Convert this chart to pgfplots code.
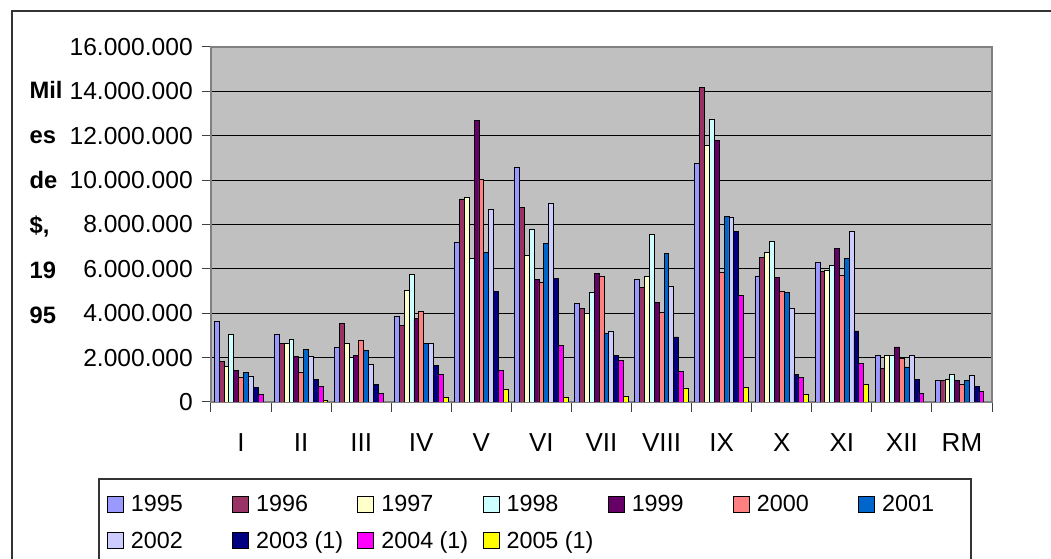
\documentclass[border=0pt]{standalone}
\usepackage{fontspec}
\setmainfont{Liberation Sans}
\usepackage{pgfplots}
\usepackage{pgfplotstable}
\pgfplotsset{compat=1.18}
\definecolor{cA}{HTML}{9999FF}
\definecolor{cB}{HTML}{993366}
\definecolor{cC}{HTML}{FFFFCC}
\definecolor{cD}{HTML}{CCFFFF}
\definecolor{cE}{HTML}{660066}
\definecolor{cF}{HTML}{FF8080}
\definecolor{cG}{HTML}{0066CC}
\definecolor{cH}{HTML}{CCCCFF}
\definecolor{cI}{HTML}{000080}
\definecolor{cJ}{HTML}{FF00FF}
\definecolor{cK}{HTML}{FFFF00}
\definecolor{bgc}{HTML}{C0C0C0}
\definecolor{axc}{HTML}{808080}
% values in millions of $ (1995)
\pgfplotstableread{
x  a     b     c     d     e     f     g     h     i     j     k
0  3.65  1.81  1.59  3.04  1.42  1.09  1.35  1.14  0.64  0.36  nan
1  3.04  2.65  2.65  2.82  2.04  1.35  2.38  2.04  1.03  0.70  0.07
2  2.44  3.56  2.65  2.00  2.10  2.77  2.31  1.69  0.81  0.39  nan
3  3.88  3.47  5.02  5.74  3.76  4.10  2.64  2.64  1.65  1.24  0.19
4  7.19  9.15  9.21  6.46  12.69 10.01 6.74  8.66  5.00  1.41  0.57
5  10.56 8.78  6.59  7.76  5.51  5.39  7.13  8.93  5.56  2.55  0.19
6  4.45  4.21  3.99  4.96  5.79  5.68  3.08  3.20  2.09  1.86  0.24
7  5.51  5.17  5.64  7.54  4.49  4.06  6.70  5.23  2.93  1.39  0.62
8  10.77 14.16 11.57 12.75 11.79 5.84  8.37  8.31  7.70  4.82  0.67
9  5.68  6.50  6.74  7.25  5.62  5.00  4.94  4.21  1.24  1.12  0.36
10 6.28  5.90  5.95  6.17  6.90  5.72  6.46  7.69  3.20  1.75  0.79
11 2.08  1.51  2.08  2.12  2.48  1.97  1.58  2.08  1.03  0.40  nan
12 0.96  0.96  1.03  1.24  0.96  0.79  0.96  1.18  0.69  0.46  nan
}\data
\begin{document}
\begin{tikzpicture}
\useasboundingbox (0,0) rectangle (788.25pt,419.25pt);
\draw[line width=1.5pt, color=black!80] (9pt,-5pt) -- (9pt,411pt) -- (800pt,411pt);
\draw[line width=1.5pt, color=black!80] (74.25pt,-5pt) -- (74.25pt,60pt) -- (728.25pt,60pt) -- (728.25pt,-5pt);
\begin{axis}[
  at={(158.25pt,117.75pt)}, anchor=south west,
  scale only axis, width=585.75pt, height=266.25pt,
  xmin=-0.5, xmax=12.5, ymin=0, ymax=16,
  ybar=0pt, bar width=3.65pt,
  axis background/.style={fill=bgc},
  axis line style={draw=axc, line width=1pt},
  ymajorgrids, grid style={black, line width=0.75pt},
  ytick={0,2,...,16},
  yticklabels={0,2.000.000,4.000.000,6.000.000,8.000.000,10.000.000,12.000.000,14.000.000,16.000.000},
  xtick={0,...,12},
  xticklabels={I,II,III,IV,V,VI,VII,VIII,IX,X,XI,XII,RM},
  minor xtick={-0.5,0.5,...,12.5},
  major x tick style={draw=none},
  xtick pos=bottom, ytick pos=left,
  tick align=outside, major tick length=6.75pt, minor tick length=7.5pt,
  tick style={black!75, line width=0.75pt},
  yticklabel style={font=\fontsize{18.45}{22}\selectfont, inner sep=0pt, xshift=-6.75pt},
  xticklabel style={font=\fontsize{19.5}{22}\selectfont, inner sep=0pt, yshift=-17pt},
  every axis y label/.style={at={(axis description cs:-0.2326,0.904)}, anchor=north west, align=left, inner sep=0pt, font=\bfseries\fontsize{17.8}{33.75}\selectfont},
  ylabel={Mil\\es\\de\\\$,\\19\\95},
  legend columns=7,
  legend cell align=left,
  legend image code/.code={\draw[#1, line width=0.75pt] (0pt,-6pt) rectangle (12pt,6pt);},
  legend style={draw=none, fill=none, inner sep=0pt, outer sep=0pt,
    at={(axis description cs:-0.1332,-0.262)}, anchor=north west,
    nodes={inner sep=0pt, font=\fontsize{17.5}{20}\selectfont},
    row sep=13pt,
    /tikz/every odd column/.append style={column sep=5.25pt}},
]
\addplot[fill=cA, draw=black, line width=0.6pt] table[x=x,y=a]{\data};
\addplot[fill=cB, draw=black, line width=0.6pt] table[x=x,y=b]{\data};
\addplot[fill=cC, draw=black, line width=0.6pt] table[x=x,y=c]{\data};
\addplot[fill=cD, draw=black, line width=0.6pt] table[x=x,y=d]{\data};
\addplot[fill=cE, draw=black, line width=0.6pt] table[x=x,y=e]{\data};
\addplot[fill=cF, draw=black, line width=0.6pt] table[x=x,y=f]{\data};
\addplot[fill=cG, draw=black, line width=0.6pt] table[x=x,y=g]{\data};
\addplot[fill=cH, draw=black, line width=0.6pt] table[x=x,y=h]{\data};
\addplot[fill=cI, draw=black, line width=0.6pt] table[x=x,y=i]{\data};
\addplot[fill=cJ, draw=black, line width=0.6pt] table[x=x,y=j]{\data};
\addplot[fill=cK, draw=black, line width=0.6pt] table[x=x,y=k]{\data};
\legend{\makebox[75.9pt][l]{\vphantom{(}1995},\makebox[75.9pt][l]{\vphantom{(}1996},\makebox[75.9pt][l]{\vphantom{(}1997},\makebox[75.9pt][l]{\vphantom{(}1998},\makebox[75.9pt][l]{\vphantom{(}1999},\makebox[75.9pt][l]{\vphantom{(}2000},\makebox[75.9pt][l]{\vphantom{(}2001},\makebox[75.9pt][l]{\vphantom{(}2002},\makebox[75.9pt][l]{2003 (1)},\makebox[75.9pt][l]{2004 (1)},\makebox[75.9pt][l]{2005 (1)}}
\end{axis}
\end{tikzpicture}
\end{document}
